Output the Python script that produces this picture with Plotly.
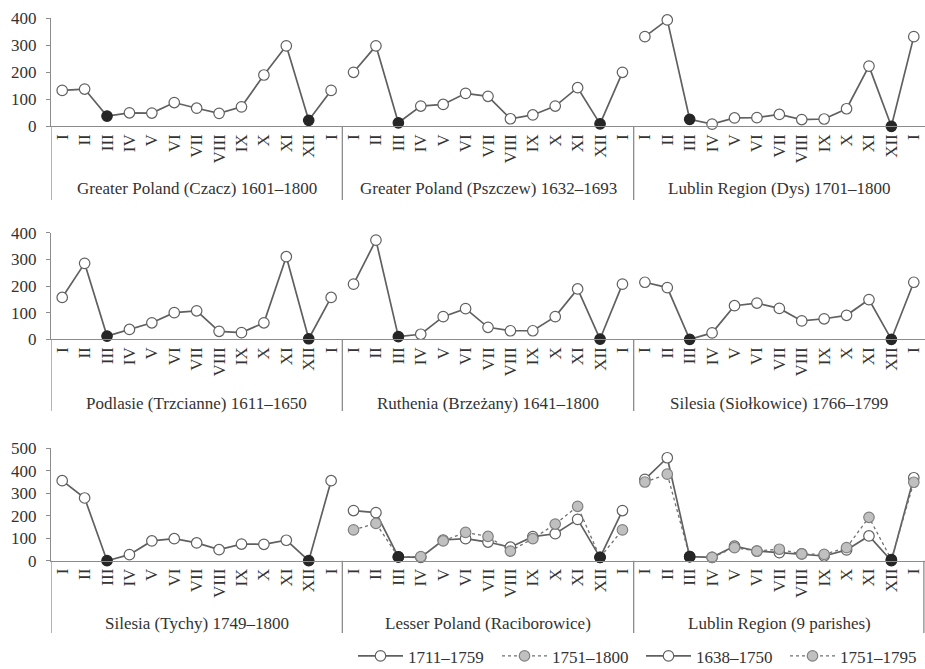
import plotly.graph_objects as go

W, H = 925, 669

months = ["I", "II", "III", "IV", "V", "VI", "VII", "VIII", "IX", "X", "XI", "XII", "I"]

row1_groups = ["Greater Poland (Czacz) 1601–1800", "Greater Poland (Pszczew) 1632–1693",
               "Lublin Region (Dys) 1701–1800"]
row2_groups = ["Podlasie (Trzcianne) 1611–1650", "Ruthenia (Brzeżany) 1641–1800",
               "Silesia (Siołkowice) 1766–1799"]
row3_groups = ["Silesia (Tychy) 1749–1800", "Lesser Poland (Raciborowice)",
               "Lublin Region (9 parishes)"]

czacz = [133, 138, 38, 50, 49, 88, 67, 48, 72, 190, 298, 22, 133]
pszczew = [200, 298, 13, 75, 81, 122, 111, 28, 42, 75, 143, 9, 200]
dys = [332, 394, 26, 8, 31, 32, 44, 25, 27, 65, 223, 0, 332]
trzcianne = [157, 285, 12, 37, 62, 100, 107, 30, 25, 62, 310, 2, 157]
brzezany = [207, 372, 10, 19, 85, 115, 45, 32, 32, 85, 189, 1, 207]
siolkowice = [214, 194, 0, 24, 126, 136, 116, 69, 77, 90, 149, 0, 214]
tychy = [356, 279, 0, 27, 88, 98, 79, 49, 74, 73, 91, 0, 356]
racib_1711_1759 = [223, 214, 17, 15, 92, 98, 83, 60, 107, 120, 184, 15, 223]
racib_1751_1800 = [137, 166, 17, 18, 88, 126, 108, 43, 98, 163, 242, 15, 137]
lublin_1638_1750 = [362, 458, 18, 15, 65, 43, 36, 30, 21, 48, 110, 0, 369]
lublin_1751_1795 = [350, 385, 18, 15, 58, 43, 51, 30, 28, 58, 193, 5, 349]

legend_names = ["1711–1759", "1751–1800", "1638–1750", "1751–1795"]

dark_months = [2, 11]  # III and XII

FONT = "Liberation Serif"
FS = 17
TXT = "#333333"
AX = "#8c8c8c"
LINE = "#606060"


def px_x(px):
    return px / W


def px_y(py):
    return 1 - py / H


rows = [
    dict(ymax=400, y0=126.3, ytop=18.3, ybot=200, glab=189, groups=row1_groups),
    dict(ymax=400, y0=339.3, ytop=232.7, ybot=411, glab=403, groups=row2_groups),
    dict(ymax=500, y0=560.7, ytop=448.3, ybot=633, glab=623, groups=row3_groups),
]

fig = go.Figure()


def add_series(row, panel, vals, style, name=None):
    xs = [panel * 13 + i for i in range(len(vals))]
    if style == "white":
        fills = ["#262626" if i in dark_months else "white" for i in range(len(vals))]
        lines = ["#262626" if i in dark_months else LINE for i in range(len(vals))]
        line = dict(color=LINE, width=1.7)
    else:
        fills = ["#262626" if i in dark_months else "#c0c0c0" for i in range(len(vals))]
        lines = ["#262626" if i in dark_months else "#808080" for i in range(len(vals))]
        line = dict(color="#707070", width=1.3, dash="dot")
    fig.add_trace(go.Scatter(
        x=xs, y=vals, mode="lines+markers",
        line=line,
        marker=dict(size=10.5, color=fills, line=dict(color=lines, width=1.2)),
        xaxis="x" if row == 0 else f"x{row + 1}",
        yaxis="y" if row == 0 else f"y{row + 1}",
        cliponaxis=False,
        showlegend=name is not None,
        name=name if name else "",
        hoverinfo="x+y",
    ))


add_series(0, 0, czacz, "white")
add_series(0, 1, pszczew, "white")
add_series(0, 2, dys, "white")
add_series(1, 0, trzcianne, "white")
add_series(1, 1, brzezany, "white")
add_series(1, 2, siolkowice, "white")
add_series(2, 0, tychy, "white")
add_series(2, 1, racib_1711_1759, "white", legend_names[0])
add_series(2, 1, racib_1751_1800, "gray", legend_names[1])
add_series(2, 2, lublin_1638_1750, "white", legend_names[2])
add_series(2, 2, lublin_1751_1795, "gray", legend_names[3])

tickvals = list(range(39))
ticktext = months * 3

layout = dict(
    width=W, height=H,
    margin=dict(l=0, r=0, t=0, b=0, autoexpand=False),
    paper_bgcolor="white", plot_bgcolor="white",
    font=dict(family=FONT, size=FS, color=TXT),
    legend=dict(orientation="h", x=px_x(353), xanchor="left", y=-0.008, yanchor="bottom",
                font=dict(family=FONT, size=FS, color=TXT), itemwidth=45,
                entrywidth=84, entrywidthmode="pixels",
                tracegroupgap=0, bgcolor="rgba(0,0,0,0)"),
    showlegend=True,
)

shapes = []
annotations = []
for r, row in enumerate(rows):
    xa = "xaxis" if r == 0 else f"xaxis{r + 1}"
    ya = "yaxis" if r == 0 else f"yaxis{r + 1}"
    xref = "x" if r == 0 else f"x{r + 1}"
    yref = "y" if r == 0 else f"y{r + 1}"
    layout[xa] = dict(
        domain=[px_x(51), 1.0], range=[-0.5, 38.5],
        anchor=yref, tickvals=tickvals, ticktext=ticktext, tickangle=-90,
        showline=True, linecolor=AX, linewidth=1.3, ticks="",
        showgrid=False, zeroline=False, fixedrange=True,
        tickfont=dict(family=FONT, size=FS, color=TXT),
    )
    layout[ya] = dict(
        domain=[px_y(row["y0"]), px_y(row["ytop"])], range=[0, row["ymax"]],
        anchor=xref, dtick=100, showline=True, linecolor=AX, linewidth=1.3,
        ticks="outside", ticklen=4, tickcolor=AX, showgrid=False, zeroline=False,
        ticklabelstandoff=6,
        tickfont=dict(family=FONT, size=FS, color=TXT), fixedrange=True,
    )
    seps = [-0.5, 12.5, 25.5] + ([38.45] if r == 2 else [])
    for s in seps:
        shapes.append(dict(type="line", xref=xref, yref="paper", x0=s, x1=s,
                           y0=px_y(row["y0"]), y1=px_y(row["ybot"]),
                           line=dict(color=AX, width=1.3)))
    for p, g in enumerate(row["groups"]):
        annotations.append(dict(text=g, xref=xref, yref="paper", x=p * 13 + 6,
                                y=px_y(row["glab"]), xanchor="center", yanchor="middle",
                                showarrow=False, font=dict(family=FONT, size=FS, color=TXT)))

layout["shapes"] = shapes
layout["annotations"] = annotations
fig.update_layout(**layout)

fig.write_html("out.html")
